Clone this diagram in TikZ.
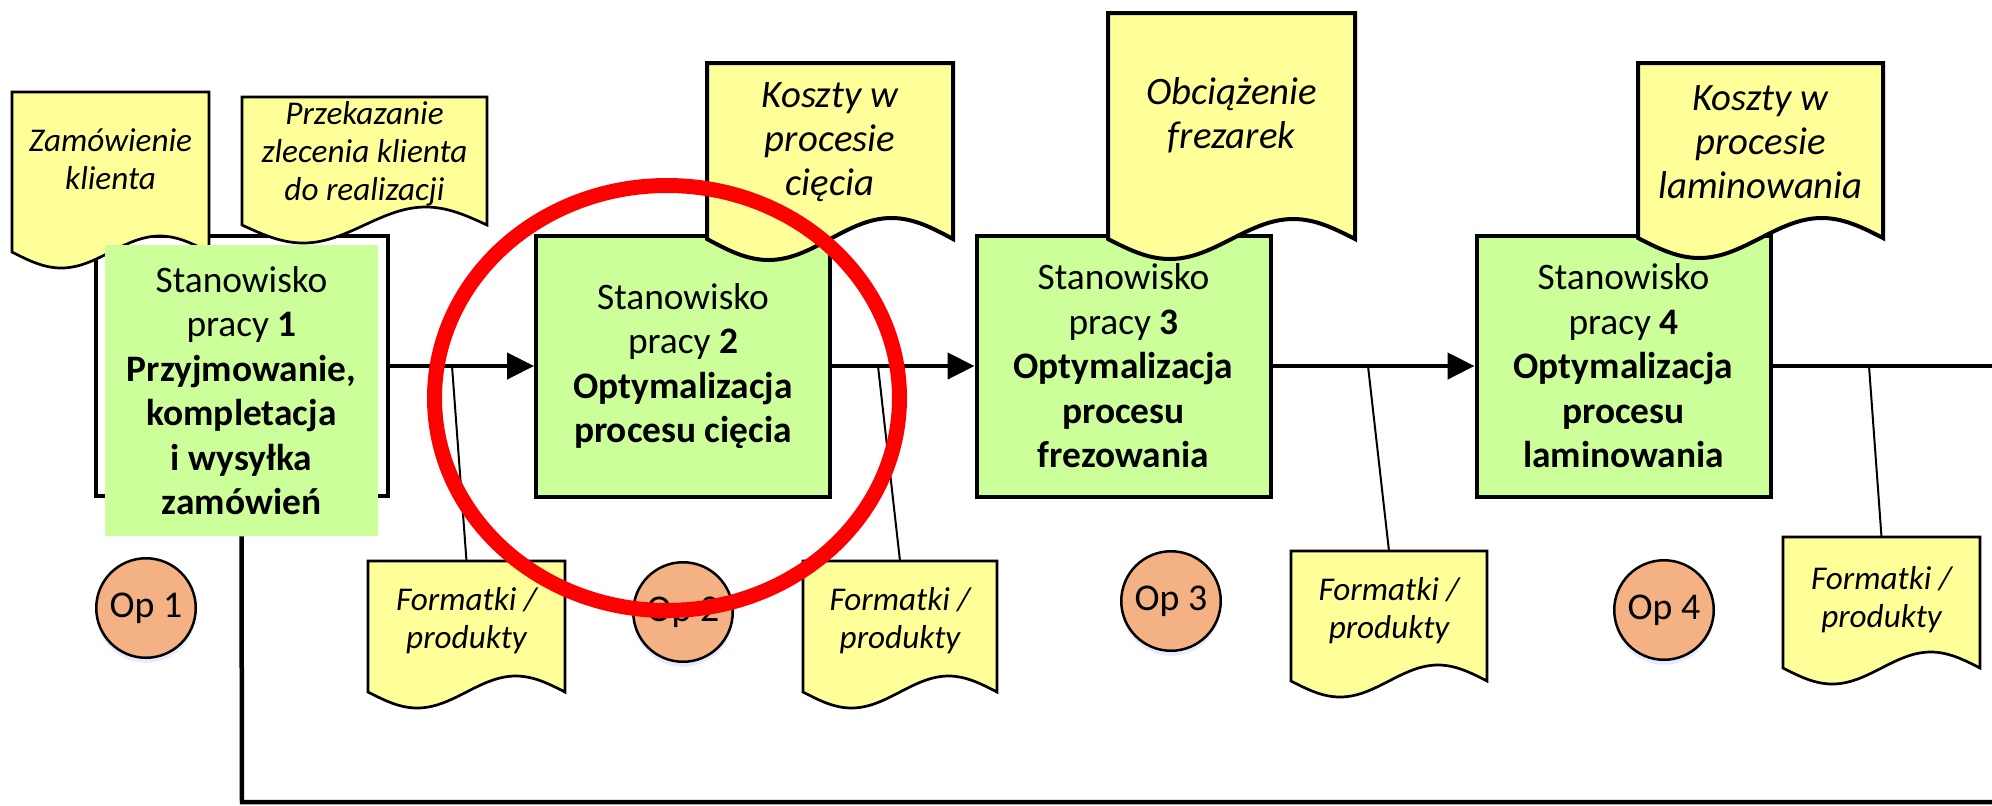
\documentclass[tikz,border=0pt]{standalone}
\usepackage{fontspec}
\setmainfont{Carlito}
\usetikzlibrary{arrows.meta,shadows}

\definecolor{stgreen}{RGB}{204,255,153}
\definecolor{docyellow}{RGB}{255,255,153}
\definecolor{opsalmon}{RGB}{244,177,131}

\newcommand\bigtxt{\fontsize{18.7}{22.25}\selectfont}
\newcommand\bigital{\fontsize{19.4}{22}\selectfont\itshape}
\newcommand\smalltxt{\fontsize{16.6}{19}\selectfont}
\def\docshape[#1](#2,#3)(#4,#5)#6{\draw[#1] (#2,#5) -- (#2,#3) -- (#4,#3) -- (#4,#5) sin ({#2+0.75*(#4-#2)},{#5-#6}) cos ({(#2+#4)/2},#5) sin ({#2+0.25*(#4-#2)},{#5+#6}) cos (#2,#5) -- cycle;}

\tikzset{
	stframe/.style={draw=black, line width=2pt, minimum width=147pt, minimum height=130.5pt, inner sep=0pt},
	station/.style={stframe, fill=stgreen, align=center, font=\bigtxt},
	opcircle/.style={circle, draw=black, line width=1.25pt, fill=opsalmon, minimum size=49.75pt, inner sep=0pt, font=\fontsize{18.9}{22}\selectfont,
		drop shadow={shadow xshift=0pt, shadow yshift=-2.5pt, fill=blue!35, opacity=0.25}},
	docbig/.style={draw=black, line width=2pt, fill=docyellow},
	docthin/.style={draw=black, line width=1.35pt, fill=docyellow},
	doctxt/.style={align=center, font=\bigital},
	doctxtsmall/.style={align=center, font=\smalltxt\itshape},
	flow/.style={line width=2.25pt},
	flowarrow/.style={flow, -{Triangle[length=13.5pt, width=13pt]}},
	tap/.style={line width=1pt},
	highlight/.style={draw=red, line width=7.5pt}
}

\begin{document}
\begin{tikzpicture}[x=0.5pt, y=-0.5pt]
			%%%%% START %%%%%
			\useasboundingbox (0,0) rectangle (1992,805);
			
			\node[stframe, minimum width=146pt, minimum height=130pt] (st1) at (242,366) {};
			
			\docshape[docthin](12,92)(209,252){16}
			\node[doctxtsmall] (zam) at (110.5,159) {Zamówienie\\klienta};
			\docshape[docthin](242,97)(487,225){18}
			\node[doctxtsmall] (prz) at (364.5,153.5) {Przekazanie\\zlecenia klienta\\do realizacji};
			
			\node[fill=stgreen, minimum width=136.5pt, minimum height=145.5pt, inner sep=0pt, align=center, font=\bigtxt] (st1t) at (241.5,390.5)
				{Stanowisko\\pracy \textbf{1}\\\textbf{Przyjmowanie,}\\\textbf{kompletacja}\\\textbf{i wysyłka}\\\textbf{zamówień}};
			
			\node[station] (st2) at (683,366) {Stanowisko\\pracy \textbf{2}\\\textbf{Optymalizacja}\\\textbf{procesu cięcia}};
			\node[station] (st3) at (1123.5,366) {Stanowisko\\pracy \textbf{3}\\\textbf{Optymalizacja}\\\textbf{procesu}\\\textbf{frezowania}};
			\node[station] (st4) at (1623.5,366) {Stanowisko\\pracy \textbf{4}\\\textbf{Optymalizacja}\\\textbf{procesu}\\\textbf{laminowania}};
			
			\docshape[docbig](707,63)(953,239){21}
			\node[doctxt] (kc) at (830,142) {Koszty w\\procesie\\cięcia};
			\docshape[docbig](1108,13)(1355,239){20}
			\node[doctxt] (obc) at (1231.5,115.5) {Obciążenie\\frezarek};
			\docshape[docbig](1638,63)(1883,238){20}
			\node[doctxt] (kl) at (1760.5,142) {Koszty w\\procesie\\laminowania};
			
			\coordinate (c1) at (452,366);
			\coordinate (c2) at (878,366);
			\coordinate (c3) at (1368,366);
			\coordinate (c4) at (1869,366);
			\coordinate (exitr) at (1992,366);
			\coordinate (corner) at (242,802);
			\coordinate (botend) at (1992,802);
			
			\draw[flowarrow] (st1) -- (st2);
			\draw[flowarrow] (st2) -- (st3);
			\draw[flowarrow] (st3) -- (st4);
			\draw[flow] (st4.east) -- (exitr);
			\draw[flow] (st1t.south) -- (corner) -- (botend);
			
			\docshape[docthin](368,561)(565,692){16}
			\node[doctxtsmall] (fm1) at (466.5,621) {Formatki /\\produkty};
			\docshape[docthin](803,561)(997,692){16}
			\node[doctxtsmall] (fm2) at (900,621) {Formatki /\\produkty};
			\docshape[docthin](1291,551)(1487,681){16}
			\node[doctxtsmall] (fm3) at (1389,611) {Formatki /\\produkty};
			\docshape[docthin](1783,537)(1980,668){16}
			\node[doctxtsmall] (fm4) at (1881.5,600) {Formatki /\\produkty};
			
			\coordinate (fm1top) at (466.5,561);
			\coordinate (fm2top) at (900,561);
			\coordinate (fm3top) at (1389,551);
			\coordinate (fm4top) at (1881.5,537);
			\draw[tap] (c1) -- (fm1top);
			\draw[tap] (c2) -- (fm2top);
			\draw[tap] (c3) -- (fm3top);
			\draw[tap] (c4) -- (fm4top);
			
			\node[opcircle] (op1) at (146,608) {Op 1};
			\node[opcircle] (op2) at (683,612) {Op 2};
			\node[opcircle] (op3) at (1171,601) {Op 3};
			\node[opcircle] (op4) at (1664,610) {Op 4};
			
			\draw[highlight] (667,398) ellipse [x radius=232.5, y radius=212.5];
			%%%%% END %%%%%
\end{tikzpicture}
\end{document}
